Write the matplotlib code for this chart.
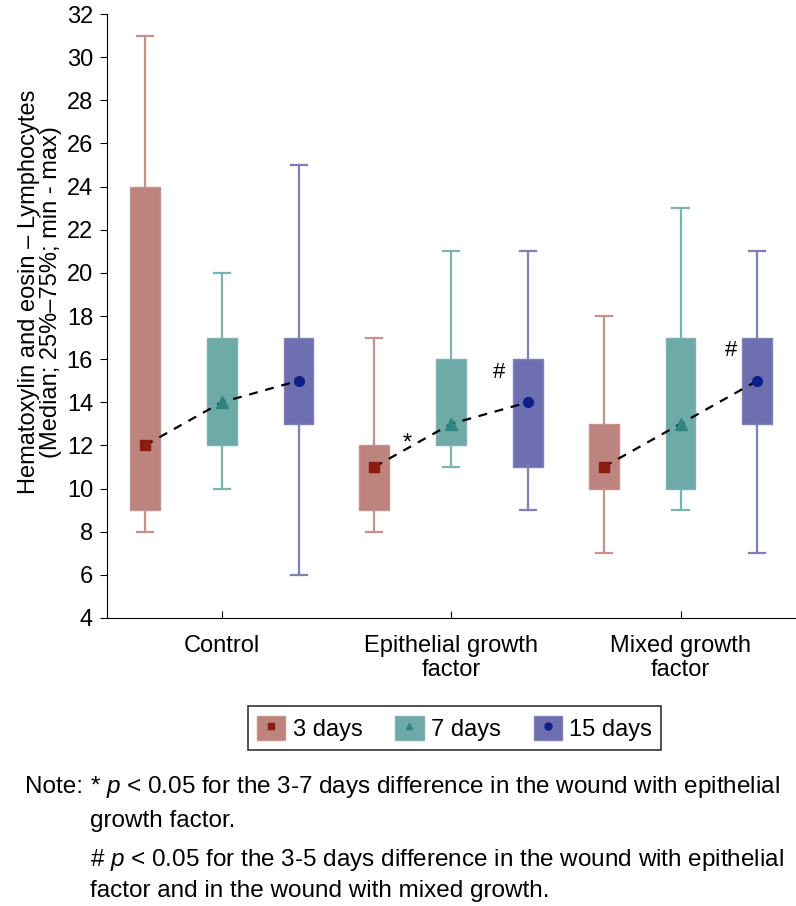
import numpy as np
import matplotlib
matplotlib.use("Agg")
import matplotlib.pyplot as plt
from matplotlib.patches import Patch
from matplotlib.lines import Line2D
from matplotlib.legend_handler import HandlerTuple

plt.rcParams['font.family'] = ['Liberation Sans', 'DejaVu Sans']
plt.rcParams['mathtext.fontset'] = 'custom'
plt.rcParams['mathtext.it'] = 'Liberation Sans:italic'
plt.rcParams['mathtext.rm'] = 'Liberation Sans'

# data
groups = ['Control', 'Epithelial growth\nfactor', 'Mixed growth\nfactor']
days = ['3 days', '7 days', '15 days']
mins = [[8, 10, 6], [8, 11, 9], [7, 9, 7]]
q1s = [[9, 12, 13], [9, 12, 11], [10, 10, 13]]
medians = [[12, 14, 15], [11, 13, 14], [11, 13, 15]]
q3s = [[24, 17, 17], [12, 16, 16], [13, 17, 17]]
maxs = [[31, 20, 25], [17, 21, 21], [18, 23, 21]]

box_colors = ['#bd837f', '#6eaaa8', '#6d6fb0']
whisk_colors = ['#c4928e', '#7db2b1', '#7e80b8']
mark_colors = ['#8c1c10', '#2f857f', '#0c1f8a']
markers = ['s', '^', 'o']
offsets = [-0.335, 0.0, 0.335]

fig = plt.figure(figsize=(7.96, 9.06), dpi=100)
ax = fig.add_axes([0.1344, 0.3179, 0.8646, 0.6666])

for d in range(3):
    stats = []
    for g in range(3):
        stats.append({'whislo': mins[g][d], 'q1': q1s[g][d], 'med': medians[g][d],
                      'q3': q3s[g][d], 'whishi': maxs[g][d], 'fliers': []})
    pos = [g + offsets[d] for g in range(3)]
    ax.bxp(stats, positions=pos, widths=0.13, patch_artist=True, showfliers=False,
           capwidths=0.07,
           boxprops=dict(facecolor=box_colors[d], edgecolor=whisk_colors[d], linewidth=1),
           whiskerprops=dict(color=whisk_colors[d], linewidth=1.6),
           capprops=dict(color=whisk_colors[d], linewidth=1.6),
           medianprops=dict(linestyle='none'))

# dashed lines through medians and the median markers
for g in range(3):
    xs = [g + o for o in offsets]
    ax.plot(xs, medians[g], color='black', linestyle=(0, (4, 3.5)), linewidth=1.6, zorder=4)
    for d in range(3):
        ax.plot(xs[d], medians[g][d], marker=markers[d], color=mark_colors[d],
                markersize=7 if d != 1 else 8, linestyle='none', zorder=5)

ax.text(1 - 0.19, 12.1, '*', fontsize=17, ha='center', va='center')
ax.text(1 + 0.21, 15.4, '#', fontsize=16, ha='center', va='center')
ax.text(2 + 0.22, 16.4, '#', fontsize=16, ha='center', va='center')

ax.set_xlim(-0.5, 2.5)
ax.set_ylim(4, 32)
ax.set_yticks(np.arange(4, 33, 2))
ax.set_xticks(range(3))
ax.set_xticklabels(groups, fontsize=17, linespacing=1.15)
ax.tick_params(axis='x', direction='in', length=5, pad=12)
ax.tick_params(axis='y', direction='out', length=5, labelsize=17, pad=5)
ax.spines['top'].set_visible(False)
ax.spines['right'].set_visible(False)
ax.set_ylabel('Hematoxylin and eosin \u2013 Lymphocytes\n(Median; 25%\u201375%; min - max)',
              fontsize=17, linespacing=1.0)
ax.yaxis.set_label_coords(-0.066, 0.54)

handles = []
for d in range(3):
    p = Patch(facecolor=box_colors[d], edgecolor=whisk_colors[d])
    m = Line2D([], [], marker=markers[d], color=mark_colors[d], linestyle='none', markersize=5)
    handles.append((p, m))
leg = fig.legend(handles, days, loc='center', bbox_to_anchor=(0.571, 0.196), ncol=3,
                 fontsize=17, frameon=True, fancybox=False, edgecolor='black',
                 handler_map={tuple: HandlerTuple(ndivide=1)},
                 handlelength=1.2, handleheight=1.2, handletextpad=0.3, columnspacing=1.4,
                 borderpad=0.4)
leg.get_frame().set_linewidth(1.2)

fig.text(0.031, 1 - 787 / 906, 'Note:', fontsize=17.5, va='center')
fig.text(0.113, 1 - 787 / 906, '* $p$ < 0.05 for the 3-7 days difference in the wound with epithelial',
         fontsize=17.5, va='center')
fig.text(0.113, 1 - 821 / 906, 'growth factor.', fontsize=17.5, va='center')
fig.text(0.113, 1 - 860 / 906, '# $p$ < 0.05 for the 3-5 days difference in the wound with epithelial',
         fontsize=17.5, va='center')
fig.text(0.113, 1 - 891 / 906, 'factor and in the wound with mixed growth.', fontsize=17.5, va='center')

fig.savefig('out.png', dpi=100)
